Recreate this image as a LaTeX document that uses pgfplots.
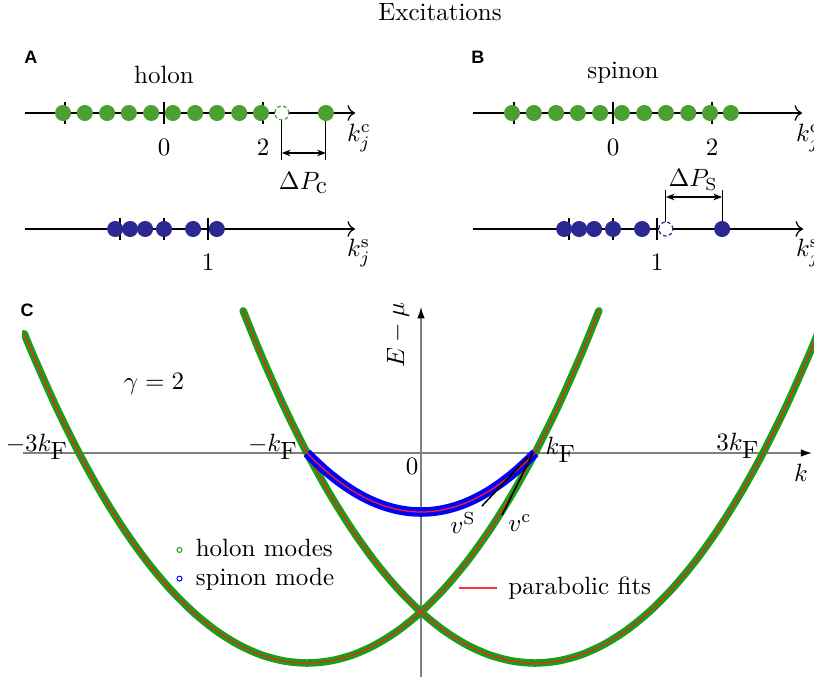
\documentclass[border=0pt]{standalone}
\usepackage{pgfplots}
\pgfplotsset{compat=1.18}
\usepackage{pgfplotstable}
\usepackage{fontspec}
\newfontfamily\panelfont{Liberation Sans}
\usetikzlibrary{arrows.meta}

\definecolor{dotgreen}{RGB}{74,160,48}
\definecolor{dotblue}{RGB}{44,40,145}
\definecolor{holgreen}{RGB}{25,158,25}
\definecolor{fitred}{RGB}{255,30,30}
\definecolor{axgray}{RGB}{128,128,128}

% holon branch centred at -kF
\pgfplotstableread{
k E
-3.48 2.272
-3.4 1.853
-3.2 0.877
-3.0 0
-2.8 -0.783
-2.6 -1.474
-2.4 -2.077
-2.2 -2.594
-2.0 -3.028
-1.8 -3.380
-1.6 -3.652
-1.4 -3.846
-1.2 -3.961
-1.0 -4.000
-0.8 -3.961
-0.6 -3.846
-0.4 -3.652
-0.2 -3.380
0.0 -3.028
0.2 -2.594
0.4 -2.077
0.6 -1.474
0.8 -0.783
1.0 0
1.2 0.877
1.4 1.853
1.56 2.707
}\holonL

% holon branch centred at +kF
\pgfplotstableread{
k E
-1.56 2.707
-1.4 1.853
-1.2 0.877
-1.0 0
-0.8 -0.783
-0.6 -1.474
-0.4 -2.077
-0.2 -2.594
0.0 -3.028
0.2 -3.380
0.4 -3.652
0.6 -3.846
0.8 -3.961
1.0 -4.000
1.2 -3.961
1.4 -3.846
1.6 -3.652
1.8 -3.380
2.0 -3.028
2.2 -2.594
2.4 -2.077
2.6 -1.474
2.8 -0.783
3.0 0
3.2 0.877
3.4 1.853
3.48 2.272
}\holonR

\pgfplotstableread{
k E
-1.0 0
-0.9 -0.214
-0.8 -0.405
-0.7 -0.573
-0.6 -0.719
-0.5 -0.843
-0.4 -0.944
-0.3 -1.023
-0.2 -1.079
-0.1 -1.113
0.0 -1.124
0.1 -1.113
0.2 -1.079
0.3 -1.023
0.4 -0.944
0.5 -0.843
0.6 -0.719
0.7 -0.573
0.8 -0.405
0.9 -0.214
1.0 0
}\spinon

\pgfplotsset{
  numline/.style={anchor=origin, y=0.4pt, ymin=-30, ymax=30,
    axis x line=middle, axis y line=none, ytick=\empty,
    xticklabels={}, major tick length=8.8pt, tick align=center,
    tick style={black, line width=0.5pt},
    axis line style={line width=0.5pt, -{To[length=3pt]}},
    enlargelimits=false, clip=false},
  dots/.style={only marks, mark=*, mark size=3pt, mark options={fill=#1, draw=#1}},
  hole/.style={only marks, mark=*, mark size=2.8pt,
    mark options={fill=white, draw=#1, line width=0.5pt, dash pattern=on 1.4pt off 1pt}},
}
\newcommand{\panel}[1]{{\panelfont\bfseries\fontsize{7.2}{8}\selectfont #1}}

\begin{document}
\begin{tikzpicture}
\useasboundingbox (0,0) rectangle (325.6pt,270.8pt);
\clip (0,0) rectangle (325.6pt,270.8pt);

\node at (176pt,266pt) {Excitations};

% A, holon, charge line
\begin{axis}[numline, at={(65.6pt,225.6pt)}, x=19.8pt, xmin=-2.81, xmax=3.86, xtick={-2,0,2}]
\draw[line width=0.5pt] (axis cs:2.38,0) -- (axis cs:2.38,-47) (axis cs:3.27,0) -- (axis cs:3.27,-47);
\draw[{Stealth[length=3.5pt]}-{Stealth[length=3.5pt]}, line width=0.5pt] (axis cs:2.38,-40) -- (axis cs:3.27,-40);
\addplot[dots=dotgreen] coordinates {(-2.04,0) (-1.60,0) (-1.15,0) (-0.71,0) (-0.26,0) (0.18,0) (0.63,0) (1.07,0) (1.52,0) (1.96,0) (3.27,0)};
\addplot[hole=dotgreen] coordinates {(2.38,0)};
\node at (axis cs:2.82,-70) {$\Delta P_{\textstyle\mathrm{c}}$};
\node at (axis cs:0,-34) {$0$};
\node at (axis cs:2,-34) {$2$};
\node at (axis cs:3.94,-25) {$k_j^{\mathrm{c}}$};
\node at (axis cs:0,38) {holon};
\node at (axis cs:-2.69,56) {\panel{A}};
\end{axis}

% A, spin line
\begin{axis}[numline, at={(65.6pt,179.2pt)}, x=17.6pt, xmin=-3.16, xmax=4.34, xtick={-1,0,1}]
\addplot[dots=dotblue] coordinates {(-1.11,0) (-0.77,0) (-0.43,0) (0,0) (0.66,0) (1.2,0)};
\node at (axis cs:1,-33) {$1$};
\node at (axis cs:4.43,-24) {$k_j^{\mathrm{s}}$};
\end{axis}

% B, spinon, charge line
\begin{axis}[numline, at={(245.2pt,225.6pt)}, x=19.8pt, xmin=-2.83, xmax=3.82, xtick={-2,0,2}]
\addplot[dots=dotgreen] coordinates {(-2.04,0) (-1.60,0) (-1.15,0) (-0.71,0) (-0.26,0) (0.18,0) (0.63,0) (1.07,0) (1.52,0) (1.96,0) (2.38,0)};
\node at (axis cs:0,-34) {$0$};
\node at (axis cs:2,-34) {$2$};
\node at (axis cs:3.94,-25) {$k_j^{\mathrm{c}}$};
\node at (axis cs:0.2,40) {spinon};
\node at (axis cs:-2.73,56) {\panel{B}};
\end{axis}

% B, spin line
\begin{axis}[numline, at={(245.2pt,179.2pt)}, x=17.6pt, xmin=-3.18, xmax=4.32, xtick={-1,0,1}]
\draw[line width=0.5pt] (axis cs:1.2,0) -- (axis cs:1.2,39) (axis cs:2.48,0) -- (axis cs:2.48,39);
\draw[{Stealth[length=3.5pt]}-{Stealth[length=3.5pt]}, line width=0.5pt] (axis cs:1.2,32) -- (axis cs:2.48,32);
\addplot[dots=dotblue] coordinates {(-1.11,0) (-0.77,0) (-0.43,0) (0,0) (0.66,0) (2.48,0)};
\addplot[hole=dotblue] coordinates {(1.2,0)};
\node at (axis cs:1.82,49) {$\Delta P_{\mathrm{S}}$};
\node at (axis cs:1,-33) {$1$};
\node at (axis cs:4.43,-24) {$k_j^{\mathrm{s}}$};
\end{axis}

% C, dispersion
\begin{axis}[anchor=origin, at={(168.4pt,89.6pt)}, x=45.6pt, y=21pt,
  xmin=-3.5, xmax=3.45, ymin=-4.27, ymax=2.85, axis lines=none,
  clip mode=individual,
  legend cell align=left,
  legend image code/.code={\draw[#1] plot coordinates {(0pt,0pt)};},
  legend style={at={(0.195,0.302)}, anchor=west, draw=none, fill=none,
    inner sep=0pt, row sep=0pt, column sep=4pt, nodes={inner sep=1.5pt}}]
\addplot[axgray, line width=0.5pt, -{Latex[black,length=4.5pt,width=3pt]}, forget plot] coordinates {(-3.49,0) (3.43,0)};
\addplot[axgray, line width=0.5pt, -{Latex[black,length=4.5pt,width=3pt]}, forget plot] coordinates {(0,-4.27) (0,2.78)};
\addplot[holgreen, line width=3pt, line cap=round, smooth, forget plot] table {\holonL};
\addplot[holgreen, line width=3pt, line cap=round, smooth, forget plot] table {\holonR};
\addplot[fitred, line width=0.5pt, smooth, forget plot] table {\holonL};
\addplot[fitred, line width=0.5pt, smooth, forget plot] table {\holonR};
\addplot[blue, line width=3.8pt, smooth, forget plot] table {\spinon};
\addplot[fitred, line width=0.5pt, smooth, forget plot] table {\spinon};
% key of the fits
\addplot[red!80!white, line width=0.6pt, forget plot] coordinates {(0.333,-2.571) (0.667,-2.571)};
\node[anchor=west, inner sep=0pt] at (axis cs:0.763,-2.571) {parabolic fits};
\addlegendimage{only marks, mark=o, mark size=1pt, holgreen}
\addlegendentry{holon modes}
\addlegendimage{only marks, mark=o, mark size=1pt, blue}
\addlegendentry{spinon mode}
\draw[black, line width=0.6pt] (axis cs:0.939,-0.076) -- (axis cs:0.535,-1.01);
\draw[black, line width=0.6pt] (axis cs:0.982,0) -- (axis cs:0.711,-1.181);
\node at (axis cs:0.368,-1.333) {$v^{\mathrm{S}}$};
\node at (axis cs:0.868,-1.333) {$v^{\mathrm{c}}$};
\node at (axis cs:-3.368,0.114) {$-3k_{\textstyle\mathrm{F}}$};
\node at (axis cs:-1.298,0.114) {$-k_{\textstyle\mathrm{F}}$};
\node at (axis cs:1.228,0.057) {$k_{\textstyle\mathrm{F}}$};
\node at (axis cs:2.781,0.133) {$3k_{\textstyle\mathrm{F}}$};
\node at (axis cs:-0.079,-0.248) {$0$};
\node at (axis cs:3.333,-0.381) {$k$};
\node[rotate=90] at (axis cs:-0.202,2.248) {$E-\mu$};
\node at (axis cs:-2.342,1.314) {$\gamma=2$};
\node at (axis cs:-3.456,2.724) {\panel{C}};
\end{axis}
\end{tikzpicture}
\end{document}
